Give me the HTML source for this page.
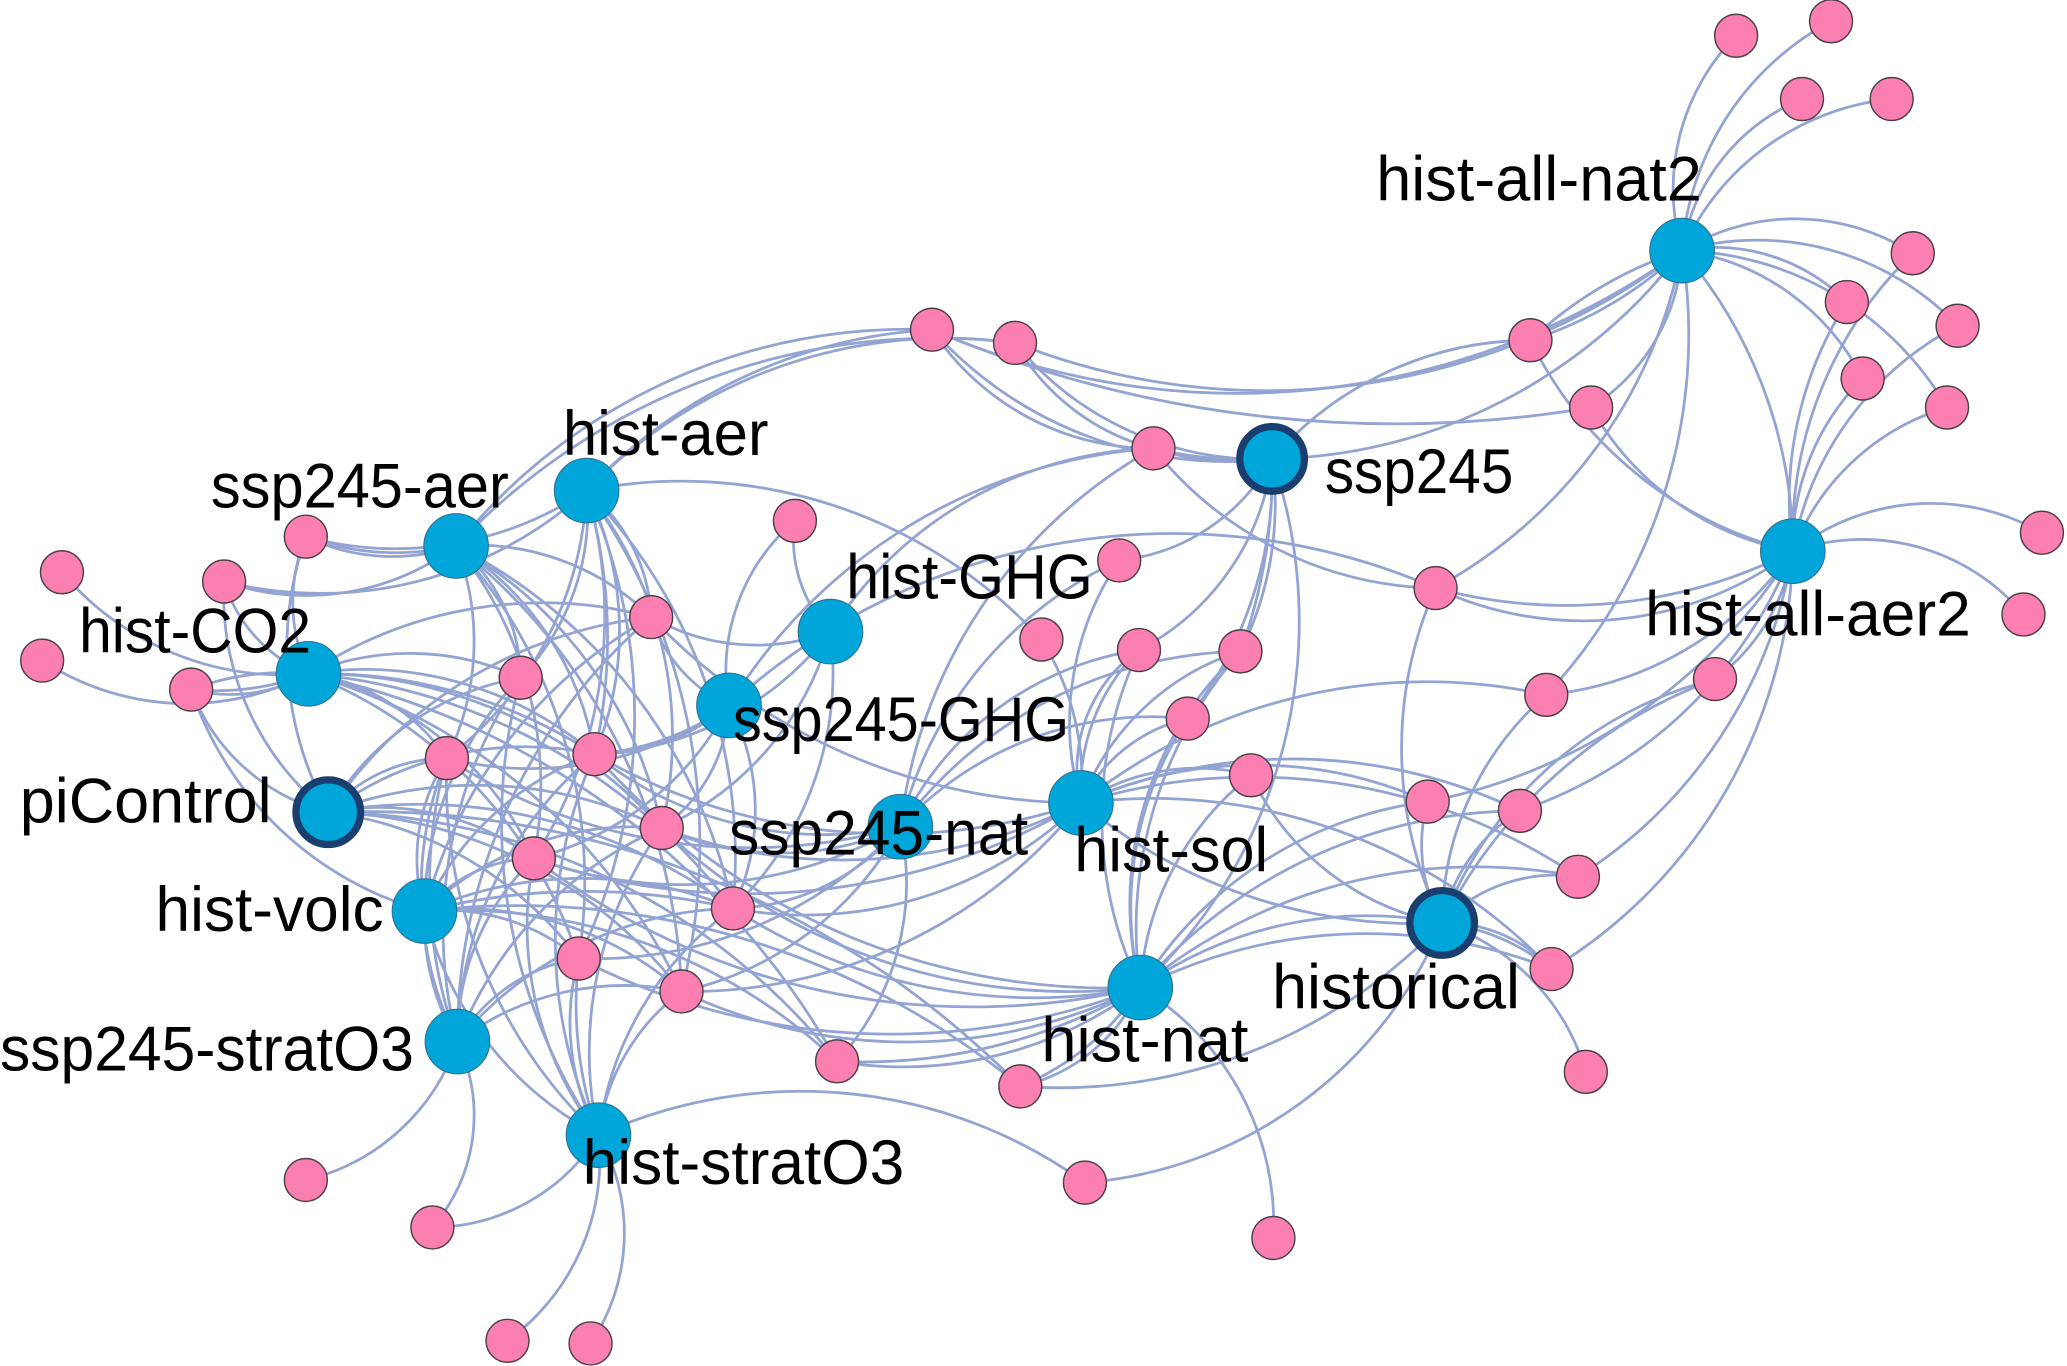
<!DOCTYPE html>
<html><head><meta charset="utf-8"><style>
html,body{margin:0;padding:0;background:#fff}
svg{display:block}
.e path{fill:none;stroke:#93a3d2;stroke-width:2.1}
.p circle{fill:#fb7fb1;stroke:#4c4048;stroke-width:1.1;r:16.3px}
.b circle{fill:#00a5da;stroke:#2f6f8c;stroke-width:.8;r:24.5px}
.o circle{fill:#00a5da;stroke:#1a3f6f;stroke-width:5.5;r:24.5px}
text{font-family:"Liberation Sans",sans-serif;font-size:48px;fill:#000}
</style></head><body>
<svg width="2067" height="1366" viewBox="0 0 1568 1036" xmlns="http://www.w3.org/2000/svg">
<rect width="1568" height="1036" fill="#fff"/>
<g class="e">
<path d="M1276 190A165 165 0 0 1 1317 27"/><path d="M1276 190A215 215 0 0 1 1389 16"/><path d="M1276 190A150 150 0 0 1 1367 75"/><path d="M1276 190A195 195 0 0 1 1435 75"/><path d="M1276 190A165 165 0 0 1 1451 192"/><path d="M1276 190A210 210 0 0 1 1485 247"/><path d="M1276 190A140 140 0 0 1 1401 229"/><path d="M1276 190A180 180 0 0 1 1413 287"/><path d="M1276 190A240 240 0 0 1 1477 309"/><path d="M1276 190A300 300 0 0 1 1161 258"/><path d="M1161 258A300 300 0 0 1 1276 190"/><path d="M1276 190A150 150 0 0 1 1207 309"/><path d="M1276 190A370 370 0 0 1 1089 446"/><path d="M1276 190A400 400 0 0 1 1173 527"/><path d="M1276 190A580 580 0 0 1 707 250"/><path d="M1276 190A520 520 0 0 1 770 260"/><path d="M1276 190A350 350 0 0 1 1360 418"/><path d="M1276 190A400 400 0 0 1 965 348"/>
<path d="M1360 418A280 280 0 0 1 1401 229"/><path d="M1360 418A180 180 0 0 1 1413 287"/><path d="M1360 418A300 300 0 0 1 1451 192"/><path d="M1360 418A240 240 0 0 1 1485 247"/><path d="M1360 418A180 180 0 0 1 1477 309"/><path d="M1360 418A170 170 0 0 1 1549 404"/><path d="M1360 418A160 160 0 0 1 1535 466"/><path d="M1360 418A300 300 0 0 1 1161 258"/><path d="M1360 418A220 220 0 0 1 1207 309"/><path d="M1360 418A380 380 0 0 1 1089 446"/><path d="M1360 418A265 265 0 0 1 1089 446"/><path d="M1360 418A260 260 0 0 1 1173 527"/><path d="M1360 418A150 150 0 0 1 1301 515"/><path d="M1360 418A340 340 0 0 1 1153 615"/><path d="M1360 418A360 360 0 0 1 1197 665"/><path d="M1360 418A380 380 0 0 1 1177 735"/><path d="M1360 418A420 420 0 0 1 1083 608"/>
<path d="M965 348A260 260 0 0 1 1161 258"/><path d="M965 348A300 300 0 0 1 875 340"/><path d="M965 348A200 200 0 0 1 875 340"/><path d="M965 348A300 300 0 0 1 707 250"/><path d="M965 348A240 240 0 0 1 770 260"/><path d="M965 348A150 150 0 0 1 849 425"/><path d="M965 348A190 190 0 0 1 864 493"/><path d="M965 348A400 400 0 0 1 941 494"/><path d="M965 348A250 250 0 0 1 941 494"/><path d="M965 348A300 300 0 0 1 901 545"/><path d="M965 348A380 380 0 0 1 865 749"/>
<path d="M445 372A390 390 0 0 1 707 250"/><path d="M346 414A440 440 0 0 1 707 250"/><path d="M445 372A380 380 0 0 1 770 260"/><path d="M346 414A500 500 0 0 1 770 260"/><path d="M1207 309A900 900 0 0 1 707 250"/>
<path d="M630 479A300 300 0 0 1 875 340"/><path d="M553 535A410 410 0 0 1 875 340"/><path d="M683 627A380 380 0 0 1 875 340"/><path d="M1089 446A280 280 0 0 1 875 340"/><path d="M875 340A200 200 0 0 1 707 250"/><path d="M875 340A170 170 0 0 1 770 260"/><path d="M553 535A500 500 0 0 1 1089 446"/>
<path d="M630 479A100 100 0 0 1 603 395"/><path d="M630 479A160 160 0 0 1 494 468"/><path d="M630 479A240 240 0 0 1 451 572"/><path d="M630 479A230 230 0 0 1 502 628"/><path d="M630 479A250 250 0 0 1 556 689"/>
<path d="M553 535A150 150 0 0 1 603 395"/><path d="M553 535A110 110 0 0 1 494 468"/><path d="M553 535A200 200 0 0 1 451 572"/><path d="M553 535A160 160 0 0 1 451 572"/><path d="M553 535A120 120 0 0 1 502 628"/><path d="M553 535A170 170 0 0 1 556 689"/><path d="M553 535A230 230 0 0 1 405 651"/><path d="M553 535A260 260 0 0 1 339 575"/>
<path d="M445 372A370 370 0 0 1 790 485"/><path d="M445 372A130 130 0 0 1 494 468"/><path d="M445 372A180 180 0 0 1 395 514"/><path d="M445 372A270 270 0 0 1 339 575"/><path d="M445 372A240 240 0 0 1 451 572"/><path d="M445 372A400 400 0 0 1 451 572"/><path d="M445 372A300 300 0 0 1 502 628"/><path d="M445 372A340 340 0 0 1 405 651"/><path d="M445 372A400 400 0 0 1 556 689"/><path d="M445 372A260 260 0 0 1 232 407"/><path d="M445 372A300 300 0 0 1 170 441"/><path d="M445 372A460 460 0 0 1 517 752"/><path d="M445 372A420 420 0 0 1 439 727"/>
<path d="M346 414A150 150 0 0 1 232 407"/><path d="M346 414A200 200 0 0 1 232 407"/><path d="M346 414A190 190 0 0 1 170 441"/><path d="M346 414A190 190 0 0 1 494 468"/><path d="M346 414A130 130 0 0 1 395 514"/><path d="M346 414A230 230 0 0 1 451 572"/><path d="M346 414A200 200 0 0 1 339 575"/><path d="M346 414A320 320 0 0 1 502 628"/><path d="M346 414A290 290 0 0 1 405 651"/><path d="M346 414A400 400 0 0 1 556 689"/><path d="M346 414A380 380 0 0 1 439 727"/><path d="M346 414A450 450 0 0 1 517 752"/>
<path d="M234 511A220 220 0 0 1 47 434"/><path d="M234 511A200 200 0 0 1 32 501"/><path d="M234 511A120 120 0 0 1 145 523"/><path d="M234 511A200 200 0 0 1 145 523"/><path d="M145 523A200 200 0 0 1 234 511"/><path d="M234 511A110 110 0 0 1 170 441"/><path d="M234 511A130 130 0 0 1 232 407"/><path d="M234 511A200 200 0 0 1 395 514"/><path d="M234 511A150 150 0 0 1 339 575"/><path d="M234 511A270 270 0 0 1 451 572"/><path d="M234 511A380 380 0 0 1 451 572"/><path d="M234 511A320 320 0 0 1 494 468"/><path d="M234 511A350 350 0 0 1 502 628"/><path d="M234 511A250 250 0 0 1 405 651"/><path d="M234 511A450 450 0 0 1 556 689"/><path d="M234 511A350 350 0 0 1 439 727"/><path d="M234 511A450 450 0 0 1 517 752"/><path d="M234 511A600 600 0 0 1 635 805"/>
<path d="M249 616A260 260 0 0 1 232 407"/><path d="M249 616A210 210 0 0 1 170 441"/><path d="M249 616A150 150 0 0 1 145 523"/><path d="M249 616A120 120 0 0 1 339 575"/><path d="M249 616A210 210 0 0 1 395 514"/><path d="M249 616A340 340 0 0 1 494 468"/><path d="M249 616A250 250 0 0 1 451 572"/><path d="M249 616A320 320 0 0 1 502 628"/><path d="M249 616A400 400 0 0 1 556 689"/><path d="M249 616A200 200 0 0 1 405 651"/><path d="M249 616A350 350 0 0 1 517 752"/><path d="M249 616A280 280 0 0 1 439 727"/><path d="M249 616A500 500 0 0 1 635 805"/><path d="M249 616A700 700 0 0 1 774 824"/>
<path d="M322 691A260 260 0 0 1 145 523"/><path d="M322 691A140 140 0 0 1 339 575"/><path d="M322 691A250 250 0 0 1 395 514"/><path d="M322 691A220 220 0 0 1 451 572"/><path d="M322 691A360 360 0 0 1 494 468"/><path d="M322 691A110 110 0 0 1 405 651"/><path d="M322 691A230 230 0 0 1 502 628"/><path d="M322 691A300 300 0 0 1 556 689"/><path d="M322 691A500 500 0 0 1 556 689"/><path d="M322 691A160 160 0 0 1 439 727"/><path d="M322 691A250 250 0 0 1 517 752"/><path d="M322 691A420 420 0 0 1 635 805"/><path d="M322 691A600 600 0 0 1 774 824"/><path d="M454 861A260 260 0 0 1 322 691"/><path d="M347 790A180 180 0 0 1 322 691"/>
<path d="M347 790A160 160 0 0 1 232 895"/><path d="M347 790A130 130 0 0 1 328 931"/><path d="M347 790A130 130 0 0 1 439 727"/><path d="M347 790A210 210 0 0 1 517 752"/><path d="M347 790A190 190 0 0 1 405 651"/><path d="M347 790A260 260 0 0 1 339 575"/><path d="M347 790A350 350 0 0 1 339 575"/><path d="M347 790A340 340 0 0 1 395 514"/><path d="M347 790A290 290 0 0 1 451 572"/><path d="M347 790A420 420 0 0 1 494 468"/><path d="M347 790A290 290 0 0 1 502 628"/><path d="M347 790A280 280 0 0 1 556 689"/>
<path d="M454 861A170 170 0 0 1 385 1017"/><path d="M454 861A150 150 0 0 1 448 1019"/><path d="M454 861A150 150 0 0 1 328 931"/><path d="M454 861A370 370 0 0 1 823 897"/><path d="M454 861A180 180 0 0 1 439 727"/><path d="M454 861A300 300 0 0 1 439 727"/><path d="M454 861A160 160 0 0 1 517 752"/><path d="M454 861A260 260 0 0 1 405 651"/><path d="M454 861A370 370 0 0 1 339 575"/><path d="M454 861A420 420 0 0 1 395 514"/><path d="M454 861A350 350 0 0 1 451 572"/><path d="M454 861A290 290 0 0 1 502 628"/><path d="M454 861A250 250 0 0 1 556 689"/>
<path d="M683 627A280 280 0 0 1 451 572"/><path d="M683 627A220 220 0 0 1 502 628"/><path d="M683 627A330 330 0 0 1 405 651"/><path d="M683 627A170 170 0 0 1 556 689"/><path d="M683 627A320 320 0 0 1 439 727"/><path d="M683 627A250 250 0 0 1 517 752"/><path d="M683 627A200 200 0 0 1 635 805"/><path d="M683 627A420 420 0 0 1 339 575"/><path d="M683 627A300 300 0 0 1 849 425"/><path d="M683 627A240 240 0 0 1 864 493"/><path d="M683 627A330 330 0 0 1 941 494"/><path d="M683 627A260 260 0 0 1 901 545"/>
<path d="M820 609A220 220 0 0 1 849 425"/><path d="M820 609A150 150 0 0 1 864 493"/><path d="M820 609A110 110 0 0 1 864 493"/><path d="M820 609A190 190 0 0 1 941 494"/><path d="M820 609A120 120 0 0 1 901 545"/><path d="M820 609A160 160 0 0 1 949 588"/><path d="M820 609A420 420 0 0 1 1173 527"/><path d="M820 609A320 320 0 0 1 1083 608"/><path d="M820 609A400 400 0 0 1 1153 615"/><path d="M820 609A440 440 0 0 1 1197 665"/><path d="M820 609A420 420 0 0 1 1177 735"/><path d="M790 485A200 200 0 0 1 820 609"/><path d="M820 609A450 450 0 0 1 451 572"/><path d="M820 609A450 450 0 0 1 494 468"/><path d="M820 609A400 400 0 0 1 502 628"/><path d="M820 609A500 500 0 0 1 405 651"/><path d="M820 609A300 300 0 0 1 556 689"/><path d="M820 609A380 380 0 0 1 517 752"/><path d="M1094 700A400 400 0 0 1 820 609"/>
<path d="M865 749A300 300 0 0 1 864 493"/><path d="M865 749A320 320 0 0 1 941 494"/><path d="M865 749A260 260 0 0 1 941 494"/><path d="M865 749A260 260 0 0 1 901 545"/><path d="M865 749A220 220 0 0 1 949 588"/><path d="M865 749A300 300 0 0 1 1083 608"/><path d="M865 749A380 380 0 0 1 1153 615"/><path d="M865 749A400 400 0 0 1 1197 665"/><path d="M865 749A300 300 0 0 1 1094 700"/><path d="M865 749A380 380 0 0 1 1177 735"/><path d="M865 749A210 210 0 0 1 966 939"/><path d="M865 749A130 130 0 0 1 774 824"/><path d="M865 749A200 200 0 0 1 774 824"/><path d="M865 749A300 300 0 0 1 635 805"/><path d="M865 749A420 420 0 0 1 635 805"/><path d="M865 749A420 420 0 0 1 556 689"/><path d="M865 749A400 400 0 0 1 517 752"/><path d="M865 749A520 520 0 0 1 439 727"/><path d="M865 749A550 550 0 0 1 405 651"/><path d="M865 749A450 450 0 0 1 502 628"/><path d="M865 749A520 520 0 0 1 451 572"/>
<path d="M1094 700A300 300 0 0 1 1089 446"/><path d="M1094 700A230 230 0 0 1 1173 527"/><path d="M1094 700A300 300 0 0 1 1301 515"/><path d="M1094 700A380 380 0 0 1 1301 515"/><path d="M1094 700A130 130 0 0 1 1153 615"/><path d="M1094 700A120 120 0 0 1 1197 665"/><path d="M1094 700A110 110 0 0 1 1177 735"/><path d="M1094 700A160 160 0 0 1 1177 735"/><path d="M1094 700A200 200 0 0 1 949 588"/><path d="M1094 700A170 170 0 0 1 1203 813"/><path d="M1094 700A320 320 0 0 1 823 897"/><path d="M1094 700A400 400 0 0 1 774 824"/><path d="M1094 700A120 120 0 0 1 1083 608"/>
</g>
<g class="p">
<circle cx="1317" cy="27"/><circle cx="1389" cy="16"/><circle cx="1367" cy="75"/><circle cx="1435" cy="75"/><circle cx="1451" cy="192"/><circle cx="1401" cy="229"/><circle cx="1485" cy="247"/><circle cx="1413" cy="287"/><circle cx="1477" cy="309"/><circle cx="1161" cy="258"/><circle cx="1207" cy="309"/><circle cx="707" cy="250"/><circle cx="770" cy="260"/><circle cx="875" cy="340"/><circle cx="1549" cy="404"/><circle cx="1535" cy="466"/><circle cx="1089" cy="446"/><circle cx="849" cy="425"/><circle cx="790" cy="485"/><circle cx="864" cy="493"/><circle cx="941" cy="494"/><circle cx="901" cy="545"/><circle cx="1173" cy="527"/><circle cx="1301" cy="515"/><circle cx="949" cy="588"/><circle cx="1083" cy="608"/><circle cx="1153" cy="615"/><circle cx="1197" cy="665"/><circle cx="1177" cy="735"/><circle cx="1203" cy="813"/><circle cx="603" cy="395"/><circle cx="494" cy="468"/><circle cx="395" cy="514"/><circle cx="451" cy="572"/><circle cx="339" cy="575"/><circle cx="502" cy="628"/><circle cx="405" cy="651"/><circle cx="556" cy="689"/><circle cx="439" cy="727"/><circle cx="517" cy="752"/><circle cx="635" cy="805"/><circle cx="774" cy="824"/><circle cx="823" cy="897"/><circle cx="966" cy="939"/><circle cx="232" cy="407"/><circle cx="170" cy="441"/><circle cx="47" cy="434"/><circle cx="32" cy="501"/><circle cx="145" cy="523"/><circle cx="232" cy="895"/><circle cx="328" cy="931"/><circle cx="385" cy="1017"/><circle cx="448" cy="1019"/>
</g>
<g class="b">
<circle cx="1276" cy="190"/><circle cx="1360" cy="418"/><circle cx="445" cy="372"/><circle cx="346" cy="414"/><circle cx="630" cy="479"/><circle cx="234" cy="511"/><circle cx="553" cy="535"/><circle cx="683" cy="627"/><circle cx="820" cy="609"/><circle cx="322" cy="691"/><circle cx="865" cy="749"/><circle cx="347" cy="790"/><circle cx="454" cy="861"/>
</g>
<g class="o">
<circle cx="965" cy="348"/><circle cx="249" cy="616"/><circle cx="1094" cy="700"/>
</g>
<g>
<text x="1044" y="152" textLength="247" lengthAdjust="spacingAndGlyphs">hist-all-nat2</text>
<text x="1248" y="482" textLength="247" lengthAdjust="spacingAndGlyphs">hist-all-aer2</text>
<text x="1005" y="374" textLength="143" lengthAdjust="spacingAndGlyphs">ssp245</text>
<text x="427" y="345" textLength="156" lengthAdjust="spacingAndGlyphs">hist-aer</text>
<text x="160" y="385" textLength="226" lengthAdjust="spacingAndGlyphs">ssp245-aer</text>
<text x="642" y="454" textLength="187" lengthAdjust="spacingAndGlyphs">hist-GHG</text>
<text x="60" y="495" textLength="176" lengthAdjust="spacingAndGlyphs">hist-CO2</text>
<text x="556" y="562" textLength="255" lengthAdjust="spacingAndGlyphs">ssp245-GHG</text>
<text x="15" y="624" textLength="191" lengthAdjust="spacingAndGlyphs">piControl</text>
<text x="553" y="648" textLength="227" lengthAdjust="spacingAndGlyphs">ssp245-nat</text>
<text x="815" y="661" textLength="147" lengthAdjust="spacingAndGlyphs">hist-sol</text>
<text x="118" y="706" textLength="173" lengthAdjust="spacingAndGlyphs">hist-volc</text>
<text x="965" y="765" textLength="188" lengthAdjust="spacingAndGlyphs">historical</text>
<text x="790" y="805" textLength="157" lengthAdjust="spacingAndGlyphs">hist-nat</text>
<text x="0" y="812" textLength="314" lengthAdjust="spacingAndGlyphs">ssp245-stratO3</text>
<text x="442" y="898" textLength="244" lengthAdjust="spacingAndGlyphs">hist-stratO3</text>
</g>
</svg>
</body></html>
